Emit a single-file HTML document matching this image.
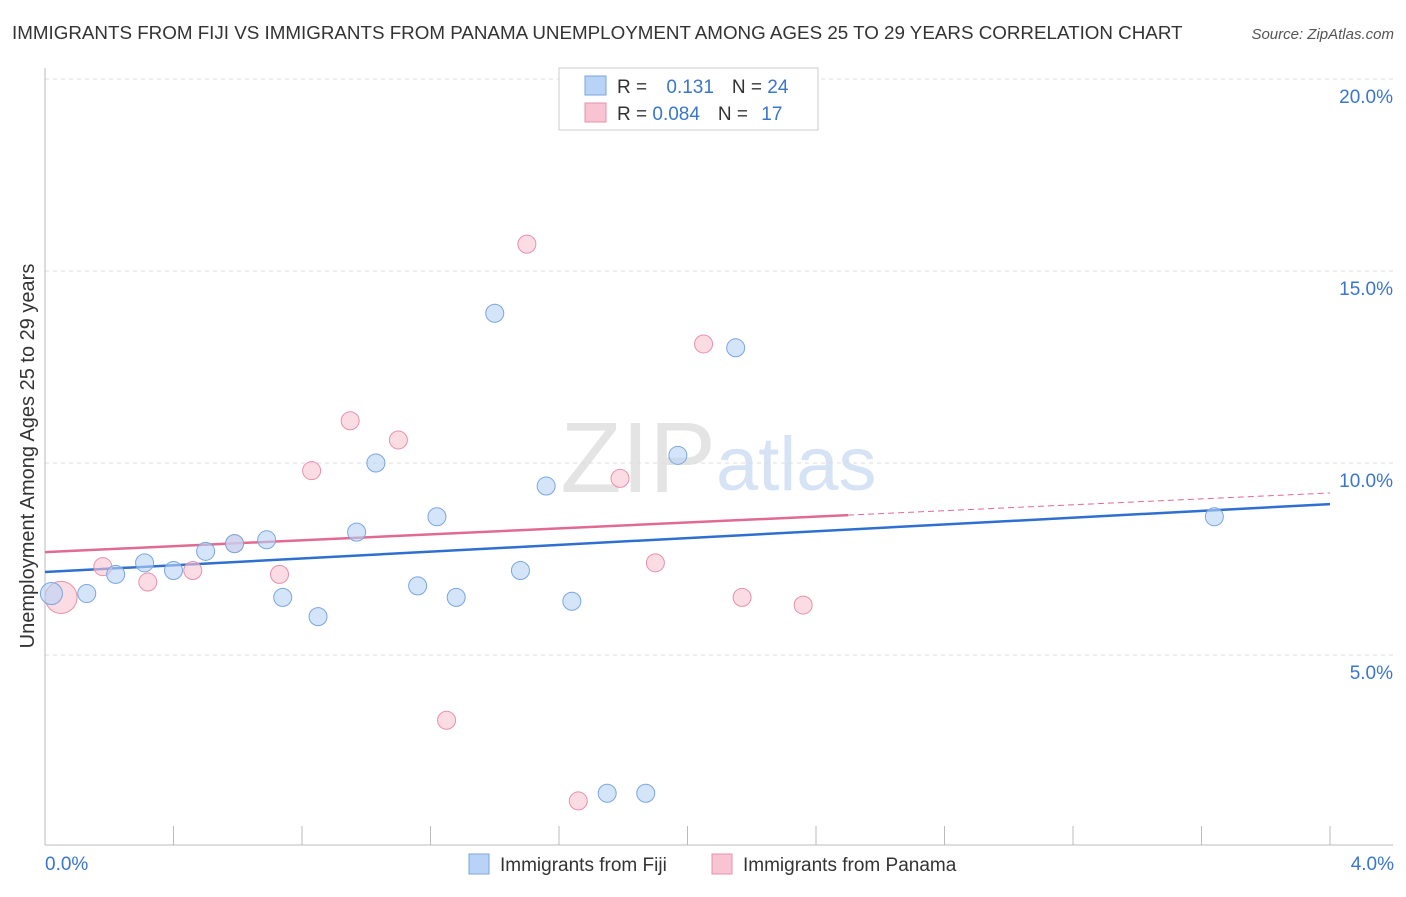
<!DOCTYPE html>
<html><head><meta charset="utf-8"><style>
body{margin:0;background:#fff;font-family:"Liberation Sans",sans-serif;}
svg text{font-family:"Liberation Sans",sans-serif;}
</style></head><body>
<svg width="1406" height="892" xmlns="http://www.w3.org/2000/svg" id="chart">
<text x="12" y="39" font-size="18.8" fill="#333">IMMIGRANTS FROM FIJI VS IMMIGRANTS FROM PANAMA UNEMPLOYMENT AMONG AGES 25 TO 29 YEARS CORRELATION CHART</text>
<text x="1394" y="39" font-size="15" fill="#555" font-style="italic" text-anchor="end">Source: ZipAtlas.com</text>
<text x="716" y="492" font-size="100" fill="#e4e4e4" text-anchor="end" font-family="Liberation Serif">ZIP</text>
<text x="716" y="490" font-size="76" fill="#d5e3f5">atlas</text>
<g id="grid"></g>
<line x1="45" y1="68" x2="45" y2="845" stroke="#bbb"/>
<line x1="45" y1="845" x2="1393" y2="845" stroke="#bbb"/>
<text x="34" y="456" font-size="20" fill="#333" text-anchor="middle" transform="rotate(-90 34 456)">Unemployment Among Ages 25 to 29 years</text>
<text x="45" y="870" font-size="19" fill="#3a76cc">0.0%</text>
<text x="1394" y="870" font-size="19" fill="#3a76cc" text-anchor="end">4.0%</text>
<g id="lines"></g>
<g id="points"></g>
<g>
<rect x="559" y="68" width="259" height="62" fill="#fff" stroke="#ccc"/>
<rect x="585" y="76" width="21" height="19" fill="#b8d3f5" stroke="#7aa6e0"/>
<rect x="585" y="103" width="21" height="19" fill="#f8c4d3" stroke="#e890aa"/>
<text x="617" y="93" font-size="19" fill="#333">R = <tspan fill="#3a76cc" dx="14">0.131</tspan><tspan dx="18" fill="#333">N = </tspan><tspan fill="#3a76cc">24</tspan></text>
<text x="617" y="120" font-size="19" fill="#333">R = <tspan fill="#3a76cc">0.084</tspan><tspan dx="18" fill="#333">N = </tspan><tspan fill="#3a76cc" dx="8">17</tspan></text>
</g>
<g>
<rect x="469" y="854" width="20" height="20" fill="#b8d3f5" stroke="#7aa6e0"/>
<text x="500" y="871" font-size="19" fill="#333">Immigrants from Fiji</text>
<rect x="712" y="854" width="20" height="20" fill="#f8c4d3" stroke="#e890aa"/>
<text x="743" y="871" font-size="19" fill="#333">Immigrants from Panama</text>
</g>
</svg>
<script>
const yTicks=[5,10,15,20];
const xTickVals=[0,0.4,0.8,1.2,1.6,2.0,2.4,2.8,3.2,3.6,4.0];
const fijiX=[0.02,0.13,0.22,0.31,0.40,0.50,0.59,0.69,0.74,0.85,0.97,1.03,1.16,1.22,1.28,1.40,1.48,1.56,1.64,1.75,1.87,1.97,2.15,3.64];
const fijiY=[6.6,6.6,7.1,7.4,7.2,7.7,7.9,8.0,6.5,6.0,8.2,10.0,6.8,8.6,6.5,13.9,7.2,9.4,6.4,1.4,1.4,10.2,13.0,8.6];
const panX=[0.05,0.18,0.32,0.46,0.59,0.73,0.83,0.95,1.10,1.25,1.50,1.66,1.79,1.90,2.05,2.17,2.36];
const panY=[6.5,7.3,6.9,7.2,7.9,7.1,9.8,11.1,10.6,3.3,15.7,1.2,9.6,7.4,13.1,6.5,6.3];
const panSize=[16,9,9,9,9,9,9,9,9,9,9,9,9,9,9,9,9];
const fijiSize=[11,9,9,9,9,9,9,9,9,9,9,9,9,9,9,9,9,9,9,9,9,9,9,9];
const fijiTrend=[7.16,8.93];
const panTrend=[7.68,9.22];
const panSolidEnd=2.5;
const X=v=>45+v*321.25, Y=v=>847-v*38.4;
const NS='http://www.w3.org/2000/svg';
function mk(tag,attrs,parent){const e=document.createElementNS(NS,tag);for(const k in attrs)e.setAttribute(k,attrs[k]);parent.appendChild(e);return e;}
const grid=document.getElementById('grid');
yTicks.forEach(t=>{
 const l=mk('line',{x1:45,x2:1393,y1:Y(t),y2:Y(t),stroke:'#ddd','stroke-dasharray':'4 4'},grid);
 
 
 const tx=mk('text',{x:1393,y:Y(t)+24,'font-size':19,fill:'#3a76cc','text-anchor':'end'},grid);
 tx.textContent=t.toFixed(1)+'%';
 
 
});
xTickVals.forEach(t=>{
 const l=mk('line',{x1:X(t),x2:X(t),y1:826,y2:845,stroke:'#bbb'},grid);
 
 
});
const lines=document.getElementById('lines');
const pf=v=>panTrend[0]+(panTrend[1]-panTrend[0])*v/4;
let l1=mk('line',{x1:X(0),y1:Y(fijiTrend[0]),x2:X(4),y2:Y(fijiTrend[1]),stroke:'#2f6fd0','stroke-width':2.5},lines);


let l2=mk('line',{x1:X(0),y1:Y(pf(0)),x2:X(panSolidEnd),y2:Y(pf(panSolidEnd)),stroke:'#e06a92','stroke-width':2.5},lines);


let l3=mk('line',{x1:X(panSolidEnd),y1:Y(pf(panSolidEnd)),x2:X(4),y2:Y(pf(4)),stroke:'#e06a92','stroke-width':1,'stroke-dasharray':'6 4'},lines);


const pts=document.getElementById('points');
panX.forEach((v,i)=>{
 const c=mk('circle',{cx:X(v),cy:Y(panY[i]),r:panSize[i],fill:'#f8c4d3','fill-opacity':0.6,stroke:'#e890aa','stroke-width':1},pts);
 
 
});
fijiX.forEach((v,i)=>{
 const c=mk('circle',{cx:X(v),cy:Y(fijiY[i]),r:fijiSize[i],fill:'#b8d3f5','fill-opacity':0.6,stroke:'#7aa6e0','stroke-width':1},pts);
 
 
});
</script>
</body></html>
